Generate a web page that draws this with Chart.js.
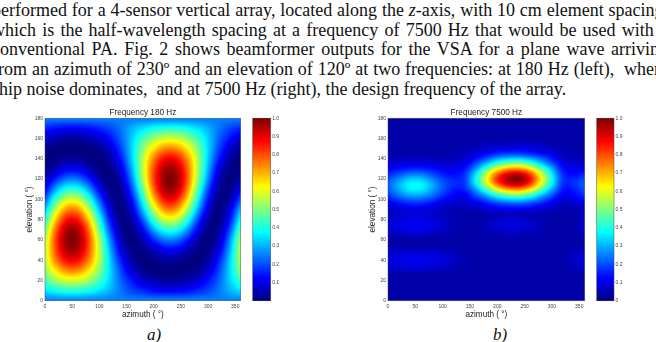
<!DOCTYPE html>
<html>
<head>
<meta charset="utf-8">
<script src="https://cdn.jsdelivr.net/npm/chart.js@4.4.1/dist/chart.umd.min.js"></script>
<style>
  html, body { margin: 0; padding: 0; background: #fff; }
  body { width: 656px; height: 342px; position: relative; overflow: hidden;
         font-family: "Liberation Serif", "Times New Roman", serif; color: #111; }
  .line { position: absolute; left: -8px; width: 676px; font-size: 18px; line-height: 20px;
          white-space: nowrap; text-align: justify; text-align-last: justify; }
  .line.last { text-align: left; text-align-last: left; }
  .cap { position: absolute; top: 325px; font-size: 17px; font-style: italic; line-height: 20px; }
  canvas { position: absolute; top: 100px; }
</style>
</head>
<body>
<div class="line" style="top:0px">performed for a 4-sensor vertical array, located along the <i>z</i>-axis, with 10 cm element spacing,</div>
<div class="line" style="top:19.7px">which is the half-wavelength spacing at a frequency of 7500 Hz that would be used with a</div>
<div class="line" style="top:39.4px">conventional PA. Fig. 2 shows beamformer outputs for the VSA for a plane wave arriving</div>
<div class="line" style="top:59.1px">from an azimuth of 230º and an elevation of 120º at two frequencies: at 180 Hz (left),&nbsp; where</div>
<div class="line last" style="top:78.8px">ship noise dominates,&nbsp; and at 7500 Hz (right), the design frequency of the array.</div>

<canvas id="map180" width="245" height="225" style="left:0px"></canvas>
<canvas id="bar180" width="45" height="225" style="left:248px"></canvas>
<canvas id="map7500" width="246" height="225" style="left:343px"></canvas>
<canvas id="bar7500" width="45" height="225" style="left:592px"></canvas>

<div class="cap" style="left:147px">a)</div>
<div class="cap" style="left:493px">b)</div>

<script>
// grid axes (degrees)
const azimuthDeg = [0, 20, 40, 60, 80, 100, 120, 140, 160, 180, 200, 220, 240, 260, 280, 300, 320, 340, 360];
const elevation180 = [0, 10, 20, 30, 40, 50, 60, 70, 80, 90, 100, 110, 120, 130, 140, 150, 160, 170, 180];
const elevation7500 = [0, 5, 10, 15, 20, 25, 30, 35, 40, 45, 50, 55, 60, 65, 70, 75, 80, 85, 90,
                       95, 100, 105, 110, 115, 120, 125, 130, 135, 140, 145, 150, 155, 160, 165, 170, 175, 180];

// tick labels
const azimuthTicks = [0, 50, 100, 150, 200, 250, 300, 350];
const elevationTicks = [0, 20, 40, 60, 80, 100, 120, 140, 160, 180];
const colorTicks180 = [0.1, 0.2, 0.3, 0.4, 0.5, 0.6, 0.7, 0.8, 0.9, 1];
const colorTicks7500 = [0, 0.1, 0.2, 0.3, 0.4, 0.5, 0.6, 0.7, 0.8, 0.9, 1];

// normalised beamformer output, 180 Hz (rows = elevation 0..180, cols = azimuth 0..360)
const power180 = [
  [.25,.25,.25,.25,.25,.25,.25,.25,.25,.25,.25,.25,.25,.25,.25,.25,.25,.25,.25],
  [.35,.39,.41,.41,.39,.35,.30,.24,.19,.16,.13,.12,.12,.13,.16,.19,.24,.30,.35],
  [.44,.53,.58,.58,.53,.44,.33,.22,.14,.08,.05,.03,.03,.05,.08,.14,.22,.33,.44],
  [.51,.65,.74,.74,.65,.51,.34,.19,.08,.02,.00,.00,.00,.00,.02,.08,.19,.34,.51],
  [.55,.75,.87,.87,.75,.55,.33,.15,.04,.00,.01,.03,.03,.01,.00,.04,.15,.33,.55],
  [.56,.80,.95,.95,.80,.56,.30,.10,.01,.01,.06,.11,.11,.06,.01,.01,.10,.30,.56],
  [.54,.81,.98,.98,.81,.54,.26,.06,.00,.05,.16,.24,.24,.16,.05,.00,.06,.26,.54],
  [.48,.77,.95,.95,.77,.48,.20,.03,.01,.12,.29,.40,.40,.29,.12,.01,.03,.20,.48],
  [.40,.68,.86,.86,.68,.40,.14,.01,.04,.21,.43,.57,.57,.43,.21,.04,.01,.14,.40],
  [.31,.56,.73,.73,.56,.31,.09,.00,.09,.31,.56,.73,.73,.56,.31,.09,.00,.09,.31],
  [.21,.43,.57,.57,.43,.21,.04,.01,.14,.40,.68,.86,.86,.68,.40,.14,.01,.04,.21],
  [.12,.29,.40,.40,.29,.12,.01,.03,.20,.48,.77,.95,.95,.77,.48,.20,.03,.01,.12],
  [.05,.16,.24,.24,.16,.05,.00,.06,.26,.54,.81,.98,.98,.81,.54,.26,.06,.00,.05],
  [.01,.06,.11,.11,.06,.01,.01,.10,.30,.56,.80,.95,.95,.80,.56,.30,.10,.01,.01],
  [.00,.01,.03,.03,.01,.00,.04,.15,.33,.55,.75,.87,.87,.75,.55,.33,.15,.04,.00],
  [.02,.00,.00,.00,.00,.02,.08,.19,.34,.51,.65,.74,.74,.65,.51,.34,.19,.08,.02],
  [.08,.05,.03,.03,.05,.08,.14,.22,.33,.44,.53,.58,.58,.53,.44,.33,.22,.14,.08],
  [.16,.13,.12,.12,.13,.16,.19,.24,.30,.35,.39,.41,.41,.39,.35,.30,.24,.19,.16],
  [.25,.25,.25,.25,.25,.25,.25,.25,.25,.25,.25,.25,.25,.25,.25,.25,.25,.25,.25]
];

// normalised beamformer output, 7500 Hz (rows = elevation 0..180 by 5, cols = azimuth 0..360)
const power7500 = [
  [.04,.04,.04,.04,.04,.04,.04,.04,.04,.04,.04,.04,.04,.04,.04,.04,.04,.04,.04],
  [.04,.04,.04,.04,.04,.04,.04,.04,.04,.04,.04,.04,.04,.04,.04,.04,.04,.04,.04],
  [.04,.04,.04,.04,.04,.04,.04,.04,.04,.04,.04,.04,.04,.04,.04,.04,.04,.04,.04],
  [.04,.04,.04,.04,.04,.04,.04,.04,.04,.04,.04,.04,.04,.04,.04,.04,.04,.04,.04],
  [.04,.04,.04,.04,.04,.04,.04,.04,.04,.04,.04,.04,.04,.04,.04,.04,.04,.04,.04],
  [.04,.04,.04,.04,.04,.04,.04,.04,.04,.04,.04,.04,.04,.04,.04,.04,.04,.04,.04],
  [.06,.07,.07,.07,.07,.06,.05,.04,.04,.04,.04,.04,.04,.04,.04,.04,.04,.05,.06],
  [.08,.09,.10,.10,.09,.08,.06,.05,.04,.04,.04,.04,.04,.04,.04,.04,.04,.06,.08],
  [.09,.10,.11,.11,.10,.09,.07,.05,.04,.04,.04,.04,.04,.04,.04,.04,.05,.07,.09],
  [.08,.09,.10,.10,.09,.08,.06,.05,.04,.04,.04,.04,.04,.04,.04,.04,.04,.06,.08],
  [.06,.07,.07,.07,.07,.06,.05,.04,.04,.04,.04,.04,.04,.04,.04,.04,.04,.05,.06],
  [.04,.04,.04,.04,.04,.04,.04,.04,.04,.04,.04,.04,.04,.04,.04,.04,.04,.04,.04],
  [.04,.04,.04,.04,.04,.04,.04,.04,.04,.04,.04,.04,.04,.04,.04,.04,.04,.04,.04],
  [.05,.06,.07,.07,.06,.05,.05,.04,.04,.05,.05,.06,.06,.05,.05,.04,.04,.04,.05],
  [.07,.09,.10,.10,.09,.07,.05,.04,.04,.05,.07,.08,.08,.07,.05,.04,.04,.04,.07],
  [.08,.10,.11,.11,.10,.08,.05,.04,.04,.06,.08,.09,.09,.08,.06,.04,.04,.04,.08],
  [.07,.09,.10,.10,.09,.07,.05,.04,.04,.05,.07,.08,.08,.07,.05,.04,.04,.04,.07],
  [.06,.08,.09,.09,.08,.06,.05,.04,.04,.05,.05,.06,.06,.05,.05,.04,.04,.04,.06],
  [.07,.08,.09,.09,.08,.07,.05,.05,.06,.08,.10,.11,.11,.10,.08,.06,.05,.05,.07],
  [.09,.12,.15,.15,.12,.09,.07,.07,.09,.13,.17,.19,.20,.18,.14,.10,.06,.07,.09],
  [.14,.19,.22,.22,.19,.13,.10,.09,.15,.21,.29,.33,.34,.30,.23,.15,.09,.10,.14],
  [.18,.25,.30,.30,.25,.18,.13,.12,.21,.32,.44,.51,.53,.46,.34,.22,.12,.13,.18],
  [.21,.29,.36,.36,.29,.21,.15,.16,.28,.45,.62,.72,.74,.65,.48,.30,.15,.15,.21],
  [.22,.30,.37,.37,.30,.21,.17,.18,.35,.56,.77,.90,.92,.81,.59,.37,.17,.17,.22],
  [.20,.26,.32,.32,.26,.19,.16,.18,.37,.60,.83,.96,.99,.87,.64,.39,.18,.16,.20],
  [.16,.20,.24,.24,.20,.15,.13,.17,.34,.56,.77,.90,.92,.81,.59,.36,.17,.13,.16],
  [.11,.14,.16,.16,.14,.11,.11,.14,.27,.45,.62,.72,.74,.65,.48,.30,.14,.11,.11],
  [.08,.09,.10,.10,.09,.08,.08,.11,.20,.32,.44,.51,.53,.46,.34,.22,.11,.08,.08],
  [.06,.06,.07,.07,.06,.06,.06,.08,.14,.21,.29,.33,.34,.30,.23,.15,.08,.06,.06],
  [.04,.04,.04,.04,.04,.04,.05,.06,.09,.13,.17,.19,.19,.17,.14,.10,.06,.05,.04],
  [.04,.04,.04,.04,.04,.04,.04,.05,.06,.08,.10,.10,.11,.10,.08,.06,.05,.04,.04],
  [.04,.04,.04,.04,.04,.04,.04,.04,.05,.06,.06,.07,.07,.07,.06,.05,.04,.04,.04],
  [.04,.04,.04,.04,.04,.04,.04,.04,.04,.04,.04,.04,.04,.04,.04,.04,.04,.04,.04],
  [.04,.04,.04,.04,.04,.04,.04,.04,.04,.04,.04,.04,.04,.04,.04,.04,.04,.04,.04],
  [.04,.04,.04,.04,.04,.04,.04,.04,.04,.04,.04,.04,.04,.04,.04,.04,.04,.04,.04],
  [.04,.04,.04,.04,.04,.04,.04,.04,.04,.04,.04,.04,.04,.04,.04,.04,.04,.04,.04],
  [.04,.04,.04,.04,.04,.04,.04,.04,.04,.04,.04,.04,.04,.04,.04,.04,.04,.04,.04]
];

// matlab style jet colormap
const clamp01 = v => Math.max(0, Math.min(1, v));
function jet(v) {
  v = clamp01(v);
  return [
    Math.round(255 * clamp01(Math.min(4 * v - 1.5, -4 * v + 4.5))),
    Math.round(255 * clamp01(Math.min(4 * v - 0.5, -4 * v + 3.5))),
    Math.round(255 * clamp01(Math.min(4 * v + 0.5, -4 * v + 2.5)))
  ];
}

function cubic(p0, p1, p2, p3, t) {
  return p1 + 0.5 * t * (p2 - p0 + t * (2 * p0 - 5 * p1 + 4 * p2 - p3 + t * (3 * (p1 - p2) + p3 - p0)));
}
function cellIndex(arr, v) {
  let i = 0;
  while (i < arr.length - 2 && v > arr[i + 1]) i++;
  return i;
}
// smooth shading between grid samples (azimuth wraps around)
function shade(grid, az, el, a, e) {
  a = Math.max(az[0], Math.min(az[az.length - 1], a));
  e = Math.max(el[0], Math.min(el[el.length - 1], e));
  const i = cellIndex(az, a), j = cellIndex(el, e);
  const tx = (a - az[i]) / (az[i + 1] - az[i]);
  const ty = (e - el[j]) / (el[j + 1] - el[j]);
  const period = az.length - 1;
  const col = k => (k < 0 ? k + period : k > period ? k - period : k);
  const row = k => Math.max(0, Math.min(el.length - 1, k));
  const r = [];
  for (let k = -1; k <= 2; k++) {
    const g = grid[row(j + k)];
    r.push(cubic(g[col(i - 1)], g[col(i)], g[col(i + 1)], g[col(i + 2)], tx));
  }
  return cubic(r[0], r[1], r[2], r[3], ty);
}

const heatmapPlugin = {
  id: 'heatmap',
  beforeDatasetsDraw(chart, args, opts) {
    const {ctx, chartArea: area, scales: {x, y}} = chart;
    const w = Math.ceil(area.right - area.left), h = Math.ceil(area.bottom - area.top);
    const off = document.createElement('canvas');
    off.width = w; off.height = h;
    const octx = off.getContext('2d');
    const img = octx.createImageData(w, h);
    for (let py = 0; py < h; py++) {
      const e = y.getValueForPixel(area.top + py + 0.5);
      for (let px = 0; px < w; px++) {
        const a = x.getValueForPixel(area.left + px + 0.5);
        const c = jet(shade(opts.grid, opts.az, opts.el, a, e));
        const k = (py * w + px) * 4;
        img.data[k] = c[0]; img.data[k + 1] = c[1]; img.data[k + 2] = c[2]; img.data[k + 3] = 255;
      }
    }
    octx.putImageData(img, 0, 0);
    ctx.save();
    ctx.beginPath();
    ctx.rect(area.left, area.top, area.right - area.left, area.bottom - area.top);
    ctx.clip();
    ctx.drawImage(off, area.left, area.top);
    ctx.restore();
    ctx.save();
    ctx.strokeStyle = 'rgba(70,70,70,0.7)';
    ctx.lineWidth = 0.7;
    ctx.strokeRect(area.left, area.top, area.right - area.left, area.bottom - area.top);
    ctx.restore();
  }
};

const colorbarPlugin = {
  id: 'colorbar',
  beforeDatasetsDraw(chart) {
    const {ctx, chartArea: area, scales: {y}} = chart;
    for (let py = Math.floor(area.top); py < area.bottom; py++) {
      const c = jet(y.getValueForPixel(py + 0.5));
      ctx.fillStyle = `rgb(${c[0]},${c[1]},${c[2]})`;
      ctx.fillRect(area.left, py, area.right - area.left, 1);
    }
    ctx.save();
    ctx.strokeStyle = 'rgba(70,70,70,0.7)';
    ctx.lineWidth = 0.7;
    ctx.strokeRect(area.left, area.top, area.right - area.left, area.bottom - area.top);
    ctx.restore();
  }
};

const tickFont = {family: 'Liberation Sans, Arial, sans-serif', size: 5};
const titleFont = {family: 'Liberation Sans, Arial, sans-serif', size: 8.2};
const noGrid = {display: false, drawTicks: false};

function drawMap(id, titleText, grid, elev) {
  return new Chart(document.getElementById(id), {
    type: 'scatter',
    data: {datasets: []},
    options: {
      responsive: false,
      animation: false,
      events: [],
      layout: {padding: {left: 0, right: 4.3, top: 0, bottom: 0}},
      plugins: {
        legend: {display: false},
        tooltip: {enabled: false},
        heatmap: {grid: grid, az: azimuthDeg, el: elev}
      },
      scales: {
        x: {
          type: 'linear', position: 'bottom', min: 0, max: 360,
          grid: noGrid, border: {display: false},
          afterBuildTicks: s => { s.ticks = azimuthTicks.map(v => ({value: v})); },
          afterFit: s => { s.height = 24.3; },
          ticks: {font: tickFont, color: '#444', padding: 2.5, maxRotation: 0, autoSkip: false},
          title: {display: true, text: 'azimuth ( °)', font: titleFont, color: '#222', padding: {top: 0, bottom: 5.1}}
        },
        top: {
          axis: 'x', type: 'linear', position: 'top', min: 0, max: 360,
          grid: noGrid, border: {display: false},
          ticks: {display: false},
          afterFit: s => { s.height = 18.3; },
          title: {display: true, text: titleText, font: titleFont, color: '#222', padding: {top: 7.4, bottom: 0}}
        },
        y: {
          type: 'linear', position: 'left', min: 0, max: 180,
          grid: noGrid, border: {display: false},
          afterBuildTicks: s => { s.ticks = elevationTicks.map(v => ({value: v})); },
          afterFit: s => { s.width = 45; },
          ticks: {font: tickFont, color: '#444', padding: 2, autoSkip: false},
          title: {display: true, text: 'elevation ( °)', font: titleFont, color: '#222', padding: {top: 24.6, bottom: 0}}
        }
      }
    },
    plugins: [heatmapPlugin]
  });
}

function drawColorbar(id, ticks, padLeft, barWidth) {
  return new Chart(document.getElementById(id), {
    type: 'scatter',
    data: {datasets: []},
    options: {
      responsive: false,
      animation: false,
      events: [],
      layout: {padding: {left: padLeft, right: 0, top: 18.3, bottom: 24.3}},
      plugins: {legend: {display: false}, tooltip: {enabled: false}},
      scales: {
        x: {display: false, min: 0, max: 1},
        y: {
          type: 'linear', position: 'right', min: 0, max: 1,
          grid: noGrid, border: {display: false},
          afterBuildTicks: s => { s.ticks = ticks.map(v => ({value: v})); },
          afterFit: s => { s.width = 45 - padLeft - barWidth; },
          ticks: {font: tickFont, color: '#444', padding: 1.5, autoSkip: false}
        }
      }
    },
    plugins: [colorbarPlugin]
  });
}

drawMap('map180', 'Frequency 180 Hz', power180, elevation180);
drawColorbar('bar180', colorTicks180, 4.7, 18);
drawMap('map7500', 'Frequency 7500 Hz', power7500, elevation7500);
drawColorbar('bar7500', colorTicks7500, 4.7, 17.3);
</script>
</body>
</html>
